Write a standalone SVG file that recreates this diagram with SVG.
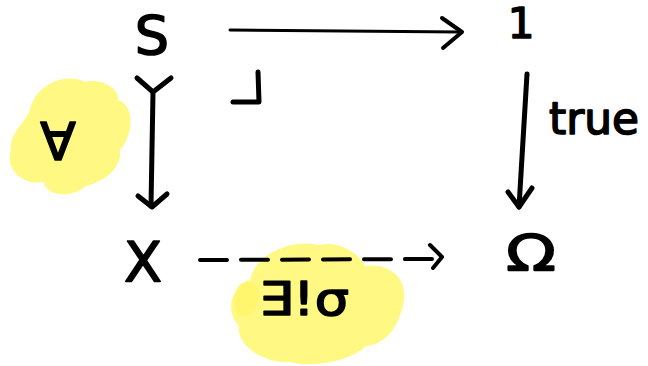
<svg xmlns="http://www.w3.org/2000/svg" width="648" height="366" viewBox="0 0 648 366">
  <style>
    .lbl { font-family: "DejaVu Sans", "Noto Sans", sans-serif; fill: #000; stroke: #000; stroke-width: 1.6; stroke-linejoin: round; text-anchor: middle; }
    .ln { fill: none; stroke: #000; stroke-linecap: round; stroke-linejoin: round; }
    .hl { fill: #fff984; }
  </style>

  <rect width="648" height="366" fill="#fff"/>

  <!-- highlighter blobs -->
  <g id="highlights">
    <path class="hl" d="M 30,110 C 35,85 65,72 85,82 C 100,78 120,88 118,100 C 135,105 134,135 120,150 C 122,170 102,182 86,186 C 72,199 45,196 44,182 C 24,186 4,170 11,150 C 9,134 24,124 30,110 Z"/>
    <path class="hl" d="M 250,280 C 255,255 290,238 320,245 C 340,240 360,255 365,266 C 390,262 410,280 403,305 C 399,325 386,345 366,346 C 350,362 310,368 290,362 C 265,364 236,346 239,326 C 224,310 232,286 250,280 Z"/>
    <path d="M 245,282 C 256,280 262,290 258,300 C 256,312 250,318 242,316 C 234,313 232,300 236,292 C 238,286 241,283 245,282 Z" fill="#fff66e"/>
  </g>

  <!-- objects -->
  <g id="node-S"><text class="lbl" x="152" y="54" font-size="54">S</text></g>
  <g id="node-1"><text class="lbl" x="521" y="38" font-size="42">1</text></g>
  <g id="node-X"><text class="lbl" x="143" y="281" font-size="56" textLength="38" lengthAdjust="spacingAndGlyphs">X</text></g>
  <g id="node-Omega"><text class="lbl" x="531" y="270" font-size="50" textLength="50" lengthAdjust="spacingAndGlyphs">Ω</text></g>

  <!-- morphisms -->
  <g id="connectors">
    <!-- S -> 1 -->
    <path class="ln" stroke-width="3" d="M 230,30 L 461,32"/>
    <path class="ln" stroke-width="4" d="M 442,18 L 462,32 L 443,48"/>
    <!-- S >-> X (mono) -->
    <path class="ln" stroke-width="5" d="M 137,78 L 153,92 L 171,78 M 153,92 L 151,206"/>
    <path class="ln" stroke-width="5" d="M 138,196 L 152,207 L 167,194"/>
    <!-- 1 -> Omega -->
    <path class="ln" stroke-width="5" d="M 527,74 L 519,207"/>
    <path class="ln" stroke-width="5" d="M 508,192 L 519,207 L 532,188"/>
    <!-- X -> Omega (dashed) -->
    <path class="ln" stroke-width="4" stroke-dasharray="27 14" d="M 200,260 L 432,259"/>
    <path class="ln" stroke-width="4" d="M 430,245 L 442,257 L 433,268"/>
    <!-- pullback corner -->
    <path class="ln" stroke-width="5" d="M 258,72 L 259,102 L 233,102"/>
  </g>

  <!-- labels -->
  <g id="labels">
    <text class="lbl" x="594" y="134" font-size="44" textLength="90" lengthAdjust="spacingAndGlyphs">true</text>
    <text class="lbl" x="58" y="160" font-size="52">∀</text>
    <text class="lbl" x="304" y="315" font-size="46" textLength="90" lengthAdjust="spacingAndGlyphs">∃!σ</text>
  </g>
</svg>
